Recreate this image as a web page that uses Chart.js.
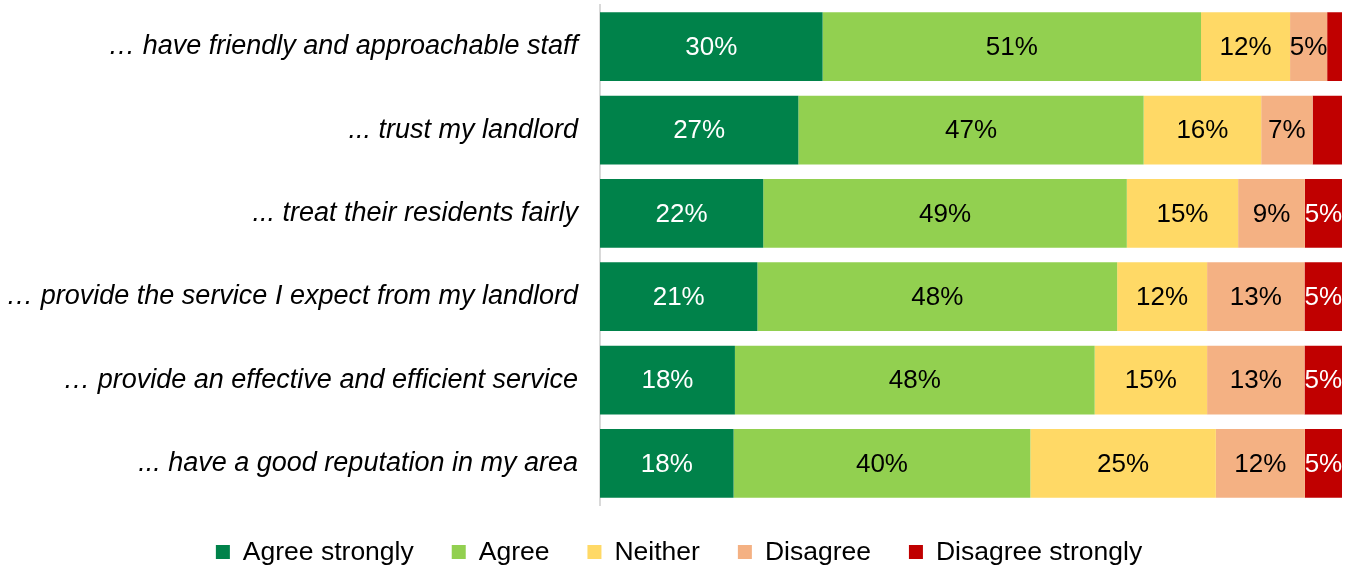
<!DOCTYPE html>
<html>
<head>
<meta charset="utf-8">
<script src="https://cdn.jsdelivr.net/npm/chart.js@4/dist/chart.umd.min.js"></script>
<style>
  html, body { margin: 0; padding: 0; background: #fff; }
  #wrap { width: 1348px; height: 566px; position: relative; }
</style>
</head>
<body>
<div id="wrap"><canvas id="chart"></canvas></div>
<script>
// Survey statements (rows, top to bottom)
const statements = [
    '\u2026 have friendly and approachable staff',
    '... trust my landlord',
    '... treat their residents fairly',
    '\u2026 provide the service I expect from my landlord',
    '\u2026 provide an effective and efficient service',
    '... have a good reputation in my area'
];

// Percent of respondents per answer
const agreeStrongly    = [30, 27, 22, 21, 18, 18];
const agree            = [51, 47, 49, 48, 48, 40];
const neither          = [12, 16, 15, 12, 15, 25];
const disagree         = [5, 7, 9, 13, 13, 12];
const disagreeStrongly = [2, 4, 5, 5, 5, 5];

const seriesNames  = ['Agree strongly', 'Agree', 'Neither', 'Disagree', 'Disagree strongly'];
const seriesValues = [agreeStrongly, agree, neither, disagree, disagreeStrongly];
const seriesColors = ['#00824A', '#92D050', '#FFD966', '#F4B183', '#C00000'];
const labelColors  = ['#ffffff', '#000000', '#000000', '#000000', '#ffffff'];

const FONT = '"Liberation Sans", Arial, sans-serif';

// rounded answers don't always add up to 100, so each bar is scaled to its row total
const rowTotals = statements.map((s, i) => seriesValues.reduce((sum, arr) => sum + arr[i], 0));

const datasets = seriesNames.map((name, k) => ({
    label: name,
    data: seriesValues[k].map((v, i) => v / rowTotals[i] * 100),
    raw: seriesValues[k],
    backgroundColor: seriesColors[k],
    borderWidth: 0,
    barPercentage: 0.825,
    categoryPercentage: 1
}));

// value labels in the middle of each segment (small ones left blank)
const segmentLabels = {
    id: 'segmentLabels',
    afterDatasetsDraw(chart) {
        const ctx = chart.ctx;
        ctx.save();
        ctx.font = '26px ' + FONT;
        ctx.textAlign = 'center';
        ctx.textBaseline = 'middle';
        chart.data.datasets.forEach((ds, k) => {
            const meta = chart.getDatasetMeta(k);
            meta.data.forEach((bar, i) => {
                const v = ds.raw[i];
                if (v < 5) return;
                const cx = (bar.x + bar.base) / 2;
                ctx.fillStyle = labelColors[k];
                ctx.fillText(v + '%', cx, bar.y + 1);
            });
        });
        ctx.restore();
    }
};

// legend row along the bottom
const bottomLegend = {
    id: 'bottomLegend',
    afterDraw(chart) {
        const ctx = chart.ctx;
        const box = 14, textGap = 13, itemGap = 38;
        ctx.save();
        ctx.font = '26.5px ' + FONT;
        ctx.textBaseline = 'middle';
        ctx.textAlign = 'left';
        const widths = seriesNames.map(n => box + textGap + ctx.measureText(n).width);
        const total = widths.reduce((a, b) => a + b, 0) + itemGap * (widths.length - 1);
        let x = 679 - total / 2;
        const y = 552;
        seriesNames.forEach((name, k) => {
            ctx.fillStyle = seriesColors[k];
            ctx.fillRect(x, y - box / 2, box, box);
            ctx.fillStyle = '#000000';
            ctx.fillText(name, x + box + textGap, y + 1);
            x += widths[k] + itemGap;
        });
        ctx.restore();
    }
};

new Chart(document.getElementById('chart'), {
    type: 'bar',
    data: {
        labels: statements,
        datasets: datasets
    },
    options: {
        indexAxis: 'y',
        responsive: true,
        maintainAspectRatio: false,
        animation: false,
        layout: {
            padding: { top: 5, right: 6, bottom: 61, left: 0 }
        },
        scales: {
            x: {
                stacked: true,
                display: false,
                min: 0,
                max: 100
            },
            y: {
                stacked: true,
                grid: { display: false, drawTicks: false },
                border: { display: true, color: '#D9D9D9', width: 2 },
                ticks: {
                    color: '#000000',
                    padding: 22,
                    font: { family: FONT, size: 27, style: 'italic' }
                },
                afterFit(scale) {
                    scale.width = 600;
                    scale.paddingTop = 0;
                    scale.paddingBottom = 0;
                }
            }
        },
        plugins: {
            legend: { display: false },
            tooltip: { enabled: false }
        }
    },
    plugins: [segmentLabels, bottomLegend]
});
</script>
</body>
</html>
